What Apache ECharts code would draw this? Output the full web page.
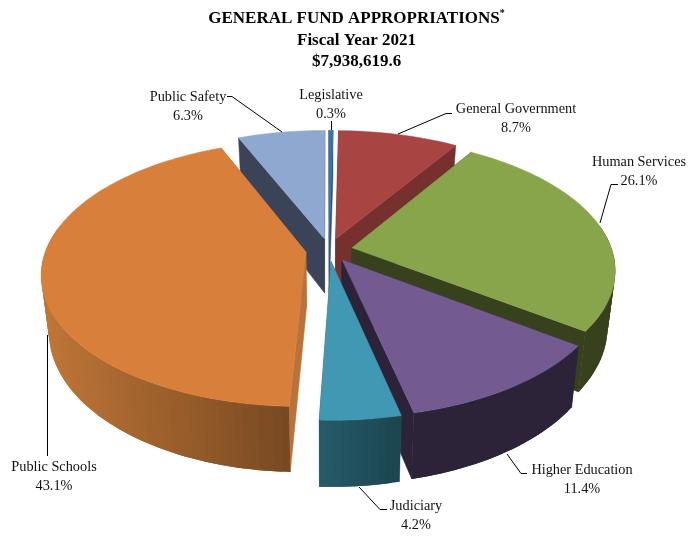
<!DOCTYPE html>
<html>
<head>
<meta charset="utf-8">
<style>html,body{margin:0;padding:0;background:#fff}#c{width:699px;height:539px}</style>
<script src="https://cdn.jsdelivr.net/npm/echarts@6/dist/echarts.min.js"></script>
</head>
<body>
<div id="c"></div>
<script>
// Data, clockwise from twelve o'clock
const categories = ['General Government','Human Services','Higher Education','Judiciary','Public Schools','Public Safety','Legislative'];
const shares = [8.7,26.1,11.4,4.2,43.1,6.3,0.3];
const titleLines = ['GENERAL FUND APPROPRIATIONS','Fiscal Year 2021','$7,938,619.6'];

// Styles
const topColors = ['#A84442','#89A54C','#735A91','#4198B2','#D8803B','#8FA8D0','#3C70A9'];
const wallColors = ['#76302D','#37411E','#2D2339','#275868','#B9733A','#3A4357','#2A4F78'];
const rimLeft = ['#76302D','#37411E','#2D2339','#275C6B','#C07637','#3A4357','#2A4F78'];
const rimRight = ['#76302D','#37411E','#2D2339','#1C4650','#794A22','#3A4357','#2A4F78'];
const paintOrder = [5,6,0,1,2,4,3];

// Projection of the tilted disc
const CX=329, CY=250, RX=260, RY=129, PERSP=0.16, DEPTH=55, BASE_SHRINK=0.973, EXPLODE=0.09, START=1;

function project(u,v,base){
  const s=1/(1+PERSP*v);
  let x=CX+RX*u*s, y=CY-RY*v*s;
  if(base){x=CX+(x-CX)*BASE_SHRINK;y+=DEPTH*s;}
  return [x,y];
}
const total=shares.reduce((a,b)=>a+b,0);
const spans=[];
shares.reduce((acc,v)=>{const a=acc+v/total*360;spans.push([acc,a]);return a;},START);
const rad=d=>d*Math.PI/180;

function buildSlice(params,api){
  const i=api.value(0), rank=paintOrder.indexOf(i);
  const [a0,a1]=spans[i];
  const mid=rad((a0+a1)/2);
  const ox=EXPLODE*Math.sin(mid), oy=EXPLODE*Math.cos(mid);
  const steps=Math.max(2,Math.ceil((a1-a0)/1.5));
  const top=[],base=[],cosines=[];
  for(let k=0;k<=steps;k++){
    const t=rad(a0+(a1-a0)*k/steps);
    const u=ox+Math.sin(t), v=oy+Math.cos(t);
    cosines.push(Math.cos(t));
    top.push(project(u,v,false));
    base.push(project(u,v,true));
  }
  const apexT=project(ox,oy,false), apexB=project(ox,oy,true);
  const poly=(pts,fill,z)=>({type:'polygon',shape:{points:pts},z2:rank*4+z,
    style:{fill:fill,stroke:fill,lineWidth:0.5}});
  const xs=top.map(p=>p[0]).filter((x,k)=>top[k][1]>CY-5);
  const x0=xs.length?Math.min.apply(null,xs):0, x1=xs.length?Math.max.apply(null,xs):1;
  const children=[
    poly([apexT,top[0],base[0],apexB],wallColors[i],0),
    poly([apexT,top[steps],base[steps],apexB],wallColors[i],0)
  ];
  for(let k=0;k<steps;k++){
    if(cosines[k]>0.15&&cosines[k+1]>0.15) continue;
    const f=Math.max(0,Math.min(1,(top[k][0]-x0)/((x1-x0)||1)));
    const c=echarts.color.lerp(f,[rimLeft[i],rimRight[i]]);
    const n=Math.min(steps,k+2);
    const pts=[];
    for(let j=k;j<=n;j++)pts.push(top[j]);
    for(let j=n;j>=k;j--)pts.push(base[j]);
    children.push({type:'polygon',shape:{points:pts},z2:rank*4+1,style:{fill:c}});
  }
  children.push(poly([apexT].concat(top),topColors[i],2));
  return {type:'group',children:children};
}

const labelFont='"Liberation Serif","Times New Roman",serif';
const labelSpots=[[516,119],[639,171.5],[582,479.5],[416,515.5],[54,476.5],[188,106.5],[331,105]];
const leaders=[
  [[452,113.5],[446,113.5],[398,134]],
  [[618,184.5],[611,184.5],[600,223]],
  [[527,473.5],[521,473.5],[507,454]],
  [[387,509.5],[380,509.5],[359,487]],
  [[47.5,456],[47.5,335]],
  [[227,96.5],[232,96.5],[282,132]],
  [[331.5,121],[331.5,130]]
];
const graphics=[];
categories.forEach((name,i)=>{
  graphics.push({type:'text',x:labelSpots[i][0],y:labelSpots[i][1],z:20,
    style:{text:name+'\n'+shares[i].toFixed(1)+'%',fontFamily:labelFont,fontSize:14.3,fill:'#111',
      align:'center',verticalAlign:'middle',lineHeight:18.7}});
  graphics.push({type:'polyline',z:20,shape:{points:leaders[i]},
    style:{stroke:'#000',lineWidth:1,fill:null}});
});

const chart=echarts.init(document.getElementById('c'),null,{renderer:'canvas'});
chart.setOption({
  animation:false,
  backgroundColor:'#fff',
  title:{
    left:351.5,top:3,textAlign:'center',
    text:'{b|'+titleLines[0]+'}{s|*}\n{b|'+titleLines[1]+'}\n{b|'+titleLines[2]+'}',
    textStyle:{rich:{
      b:{fontFamily:labelFont,fontWeight:'bold',fontSize:17,lineHeight:21.5,color:'#000'},
      s:{fontFamily:labelFont,fontWeight:'bold',fontSize:10,color:'#000',verticalAlign:'top',lineHeight:21.5}
    }}
  },
  graphic:graphics,
  series:[{
    type:'custom',coordinateSystem:'none',silent:true,
    renderItem:buildSlice,
    data:categories.map((c,i)=>({name:c,value:[i,shares[i]]}))
  }]
});
</script>
</body>
</html>
